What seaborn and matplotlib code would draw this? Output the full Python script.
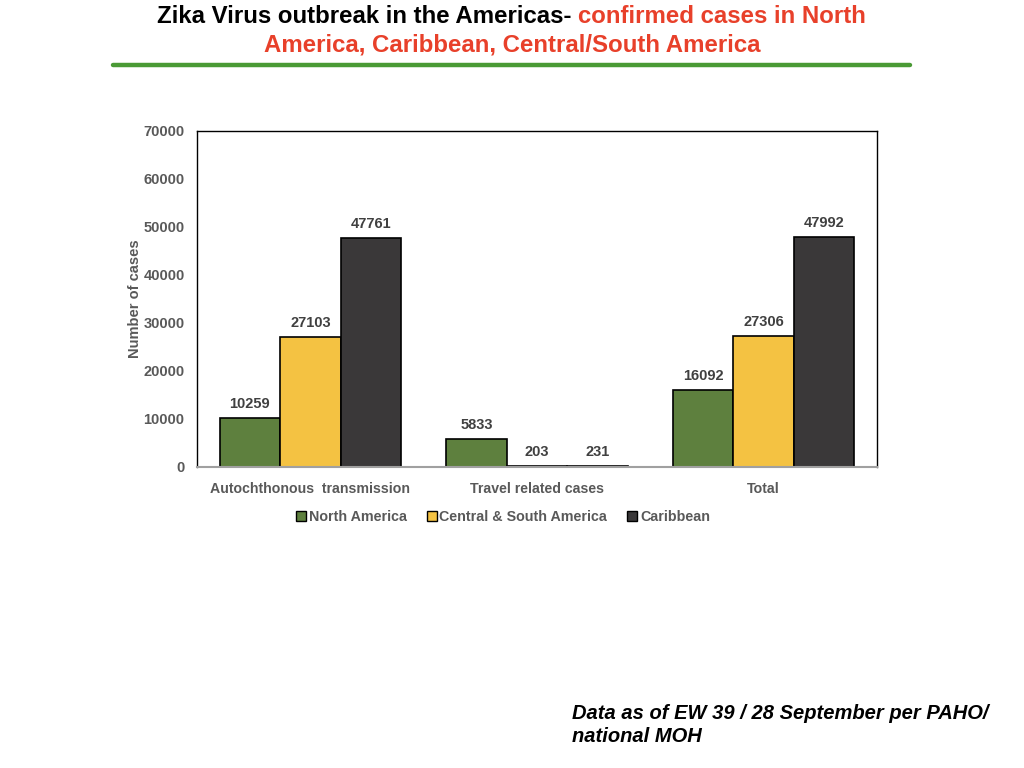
import pandas as pd
import matplotlib
matplotlib.use('Agg')
import matplotlib.pyplot as plt
import seaborn as sns
from matplotlib.lines import Line2D
from matplotlib.patches import Patch

sns.set_style('white')
plt.rcParams['font.family'] = ['Liberation Sans', 'DejaVu Sans']

# Data
categories = ['Autochthonous  transmission', 'Travel related cases', 'Total']
regions = ['North America', 'Central & South America', 'Caribbean']
north_america = [10259, 5833, 16092]
central_south = [27103, 203, 27306]
caribbean = [47761, 231, 47992]
colors = ['#5E803E', '#F4C242', '#3A3839']

df = pd.DataFrame({
    'category': categories * 3,
    'region': [regions[0]] * 3 + [regions[1]] * 3 + [regions[2]] * 3,
    'cases': north_america + central_south + caribbean,
})

fig = plt.figure(figsize=(10.24, 7.68), dpi=100)
ax = fig.add_axes([0.1924, 0.392, 0.664, 0.4375])

sns.barplot(data=df, x='category', y='cases', hue='region', palette=colors,
            order=categories, hue_order=regions, width=0.8, saturation=1,
            edgecolor='black', linewidth=1.2, ax=ax, legend=False)

for cont in ax.containers:
    ax.bar_label(cont, padding=5, fontsize=10.5, fontweight='bold', color='#404040')

ax.set_ylim(0, 70000)
ax.set_xlim(-0.5, 2.5)
ax.set_yticks(range(0, 70001, 10000))
ax.tick_params(axis='both', length=0, labelsize=10.5, labelcolor='#595959')
ax.tick_params(axis='x', labelsize=10.2, pad=11)
ax.tick_params(axis='y', pad=9)
for lab in ax.get_xticklabels() + ax.get_yticklabels():
    lab.set_fontweight('bold')
ax.set_xlabel('')
ax.set_ylabel('Number of cases', fontsize=10.5, fontweight='bold', color='#595959', labelpad=1)

for side in ['left', 'top', 'right']:
    ax.spines[side].set_color('black')
    ax.spines[side].set_linewidth(1.0)
ax.spines['bottom'].set_color('#A0A0A0')
ax.spines['bottom'].set_linewidth(1.5)

handles = [Patch(facecolor=c, edgecolor='black', linewidth=1.0) for c in colors]
ax.legend(handles, regions, loc='upper center', bbox_to_anchor=(0.45, -0.09), ncol=3,
          frameon=False, handlelength=0.7, handleheight=0.7, handletextpad=0.2,
          columnspacing=1.4, prop={'size': 10.3, 'weight': 'bold'}, labelcolor='#595959')

# Title (two colours on first line)
title_font = dict(fontsize=17.3, fontweight='bold', va='top',
                  family=['Liberation Sans Narrow', 'Liberation Sans'])
t1 = fig.text(0.1535, 0.993, 'Zika Virus outbreak in the Americas- ', color='black',
              ha='left', **title_font)
renderer = fig.canvas.get_renderer()
bb = t1.get_window_extent(renderer=renderer)
fig.text(bb.x1 / fig.bbox.width, 0.993, 'confirmed cases in North', color='#E8402A',
         ha='left', **title_font)
fig.text(0.5, 0.957, 'America, Caribbean, Central/South America', color='#E8402A',
         ha='center', **title_font)
fig.add_artist(Line2D([0.110, 0.889], [0.915, 0.915], color='#4A9A35', linewidth=3.2))

# Footnote
fig.text(0.559, 0.028, 'Data as of EW 39 / 28 September per PAHO/\nnational MOH', fontsize=14.5,
         fontweight='bold', style='italic', color='black', ha='left', va='bottom', linespacing=1.3)

plt.savefig('out.png', dpi=100)
